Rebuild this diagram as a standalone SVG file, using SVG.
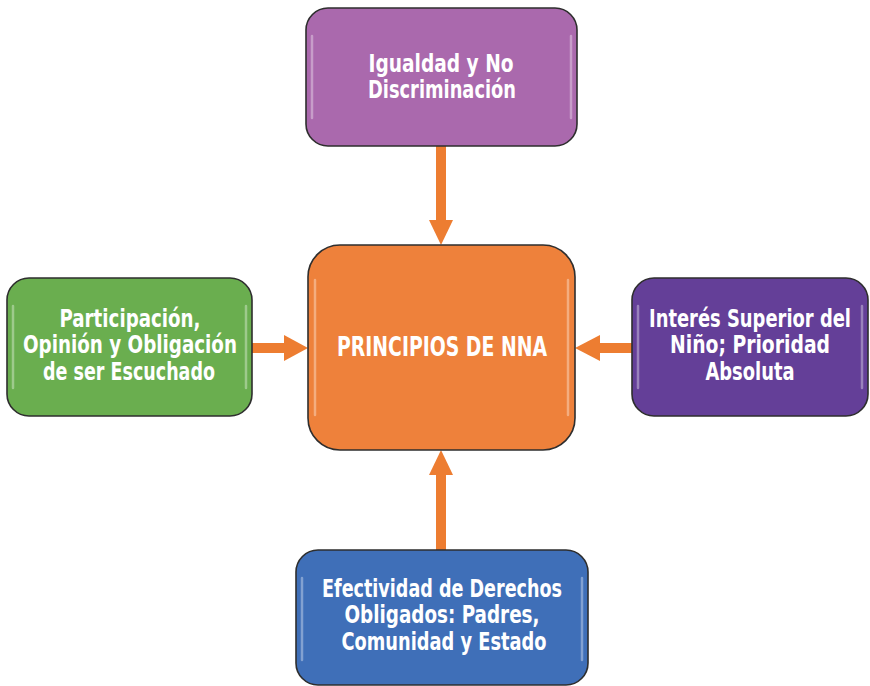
<svg xmlns="http://www.w3.org/2000/svg" width="870" height="686" viewBox="0 0 870 686">
  <style>
    .box { stroke: #2e2e2e; stroke-width: 1.6; }
    .shine { fill: none; stroke: #ffffff; stroke-opacity: 0.35; stroke-width: 2.5; stroke-linecap: round; }
    .lbl { font-family: "DejaVu Sans Condensed", "Liberation Sans Narrow", "Roboto Condensed", sans-serif; font-weight: bold; font-size: 24px; fill: #ffffff; text-anchor: middle; }
    .big { font-size: 26px; }
    .conn { stroke: #ED7D31; stroke-width: 10; fill: none; }
    .head { fill: #ED7D31; }
  </style>
  <rect width="870" height="686" fill="#ffffff"/>

  <g id="connectors">
    <!-- top to center -->
    <line class="conn" x1="441" y1="146" x2="441" y2="222"/>
    <polygon class="head" points="429,220 453,220 441,245"/>
    <!-- left to center -->
    <line class="conn" x1="252" y1="348" x2="287" y2="348"/>
    <polygon class="head" points="284,335 284,361 308,348"/>
    <!-- right to center -->
    <line class="conn" x1="632" y1="348" x2="598" y2="348"/>
    <polygon class="head" points="600,335 600,361 575,348"/>
    <!-- bottom to center -->
    <line class="conn" x1="441" y1="550" x2="441" y2="473"/>
    <polygon class="head" points="429,475 453,475 441,450"/>
  </g>

  <g id="node-igualdad">
    <rect class="box" x="306" y="8" width="271" height="138" rx="22" fill="#AA69AD"/>
    <path class="shine" d="M312,36 L312,118 M571,36 L571,118"/>
    <text class="lbl" x="441" y="72" textLength="145" lengthAdjust="spacingAndGlyphs">Igualdad y No</text>
    <text class="lbl" x="442" y="98" textLength="148" lengthAdjust="spacingAndGlyphs">Discriminación</text>
  </g>

  <g id="node-participacion">
    <rect class="box" x="7" y="278" width="245" height="138" rx="22" fill="#6AAE4F"/>
    <path class="shine" d="M13,306 L13,388 M246,306 L246,388"/>
    <text class="lbl" x="130" y="327" textLength="141" lengthAdjust="spacingAndGlyphs">Participación,</text>
    <text class="lbl" x="130" y="353" textLength="214" lengthAdjust="spacingAndGlyphs">Opinión y Obligación</text>
    <text class="lbl" x="129" y="380" textLength="172" lengthAdjust="spacingAndGlyphs">de ser Escuchado</text>
  </g>

  <g id="node-principios">
    <rect class="box" x="308" y="245" width="267" height="205" rx="32" fill="#EE813B"/>
    <path class="shine" d="M315,280 L315,415 M568,280 L568,415"/>
    <text class="lbl big" x="442" y="356" textLength="210" lengthAdjust="spacingAndGlyphs">PRINCIPIOS DE NNA</text>
  </g>

  <g id="node-interes">
    <rect class="box" x="632" y="278" width="236" height="138" rx="22" fill="#643F98"/>
    <path class="shine" d="M638,306 L638,388 M862,306 L862,388"/>
    <text class="lbl" x="750" y="327" textLength="202" lengthAdjust="spacingAndGlyphs">Interés Superior del</text>
    <text class="lbl" x="750" y="353" textLength="160" lengthAdjust="spacingAndGlyphs">Niño; Prioridad</text>
    <text class="lbl" x="750" y="380" textLength="89" lengthAdjust="spacingAndGlyphs">Absoluta</text>
  </g>

  <g id="node-efectividad">
    <rect class="box" x="296" y="550" width="292" height="135" rx="22" fill="#3F6FB8"/>
    <path class="shine" d="M302,578 L302,660 M582,578 L582,660"/>
    <text class="lbl" x="442" y="597" textLength="240" lengthAdjust="spacingAndGlyphs">Efectividad de Derechos</text>
    <text class="lbl" x="442" y="623" textLength="195" lengthAdjust="spacingAndGlyphs">Obligados: Padres,</text>
    <text class="lbl" x="444" y="650" textLength="205" lengthAdjust="spacingAndGlyphs">Comunidad y Estado</text>
  </g>
</svg>
